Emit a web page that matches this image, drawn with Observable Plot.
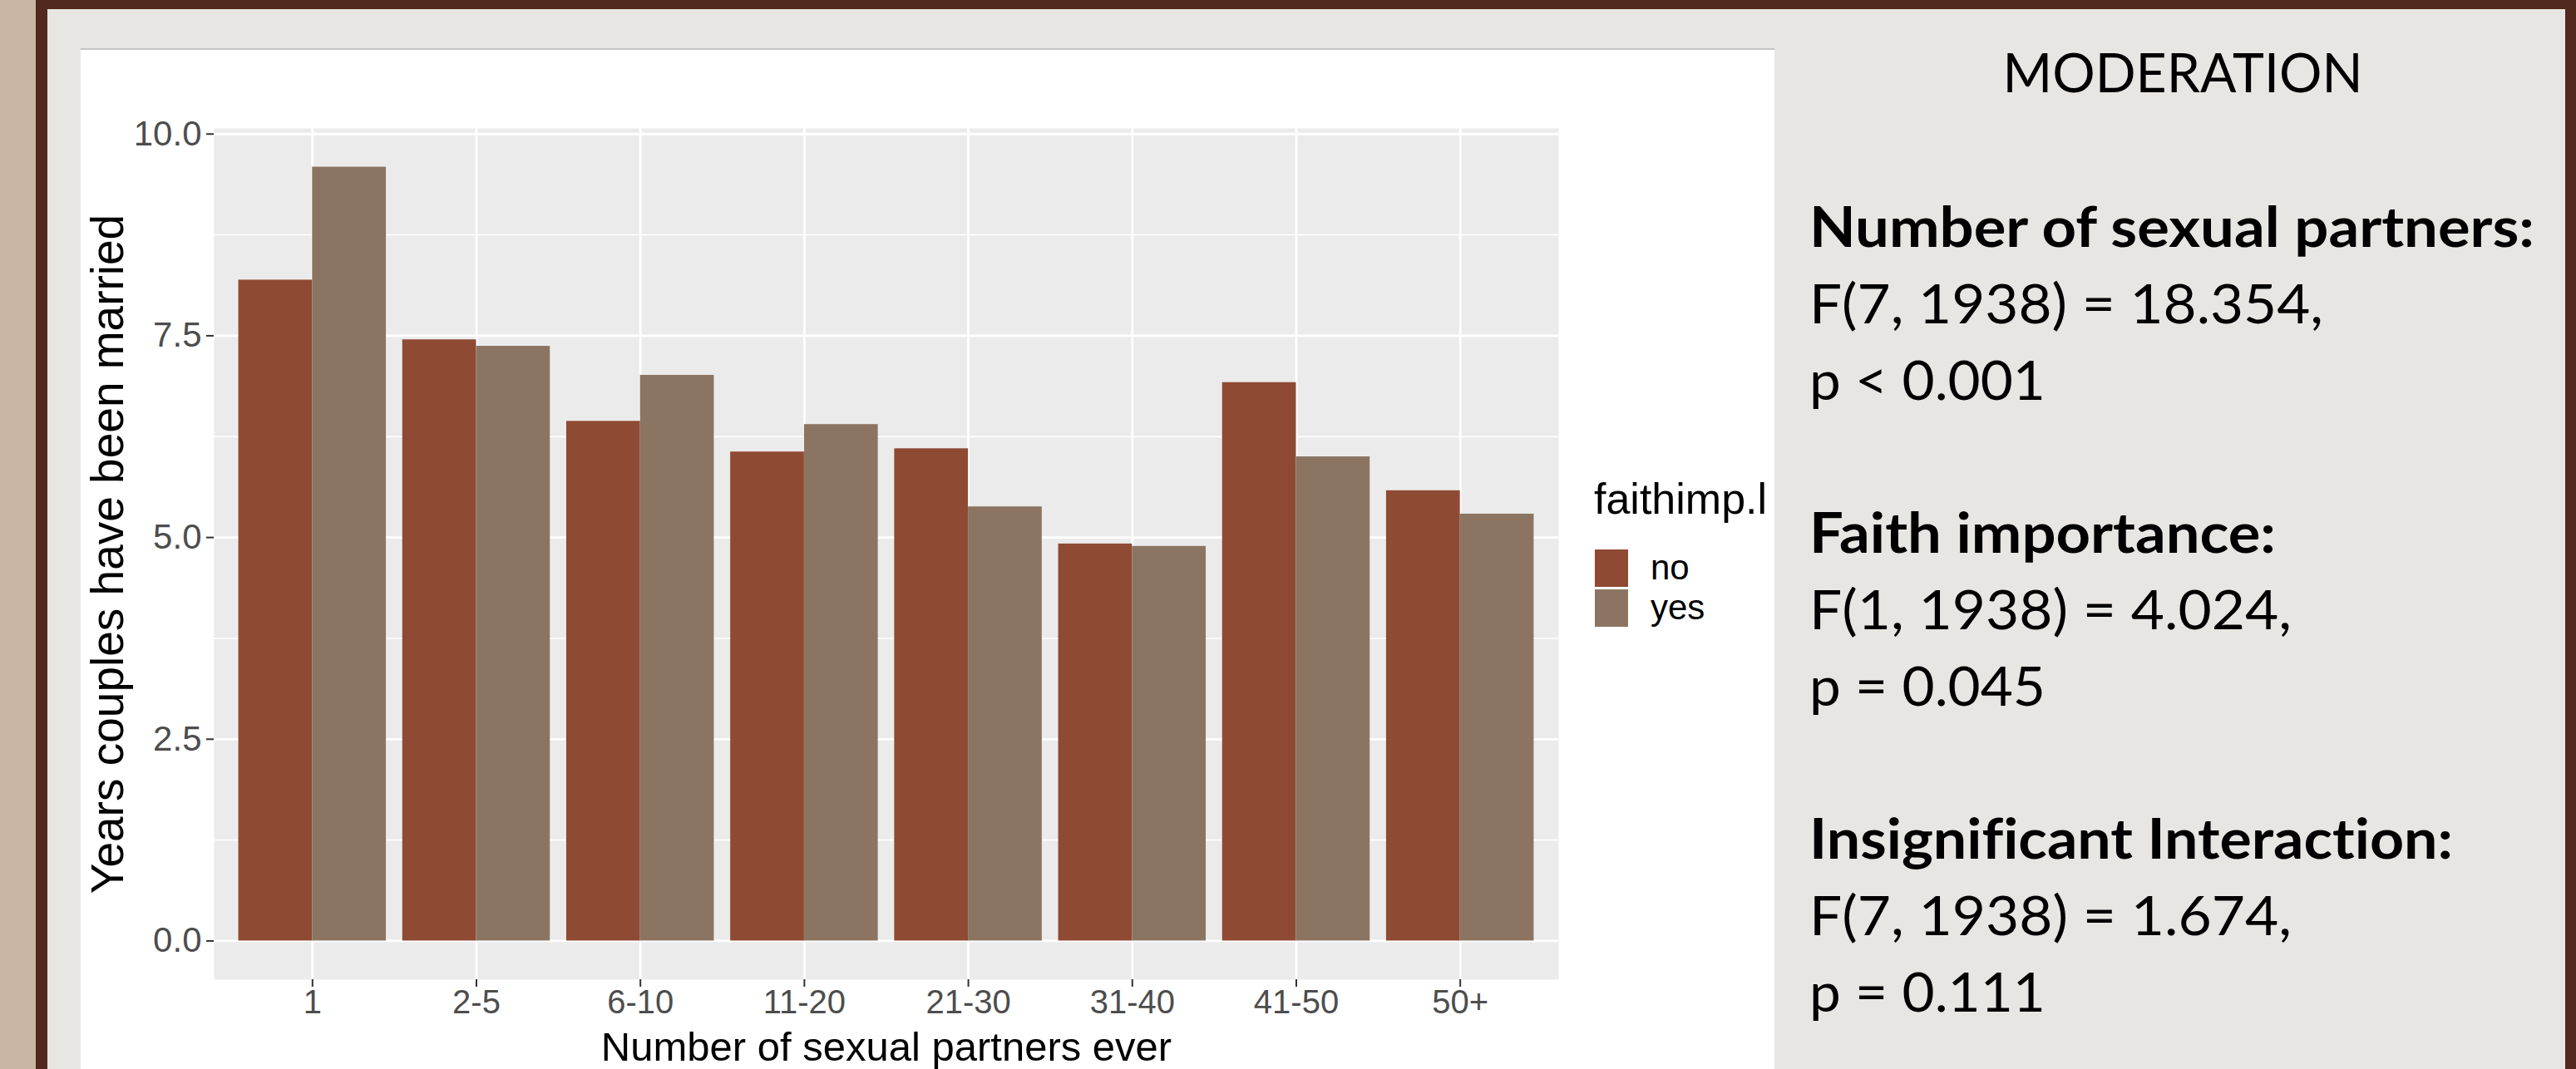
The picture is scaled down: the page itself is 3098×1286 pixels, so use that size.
<!DOCTYPE html>
<html>
<head>
<meta charset="utf-8">
<script src="https://cdn.jsdelivr.net/npm/d3@7"></script>
<script src="https://cdn.jsdelivr.net/npm/@observablehq/plot@0.6"></script>
<style>
html, body { margin: 0; padding: 0; }
body { width: 3098px; height: 1286px; position: relative; overflow: hidden; background: #e7e6e2; font-family: "Liberation Sans", Arial, sans-serif; }
.abs { position: absolute; }
#stats text { font-variant-ligatures: none; font-feature-settings: "liga" 0, "dlig" 0; }
</style>
</head>
<body>
<div class="abs" style="left:0;top:0;width:43px;height:1286px;background:#c9b6a5"></div>
<div class="abs" style="left:43px;top:0;width:14px;height:1286px;background:#52291e"></div>
<div class="abs" style="left:43px;top:0;width:3055px;height:11px;background:#52291e"></div>
<div class="abs" style="left:3085px;top:0;width:13px;height:1286px;background:#52291e"></div>
<div id="chart" class="abs" style="left:97px;top:59px;width:2037px;height:1227px;background:#fff"></div>
<div class="abs" style="left:97px;top:58px;width:2037px;height:2px;background:#c4c4c4"></div>
<div id="legend" class="abs" style="left:1917px;top:570px;width:210px;height:200px;"></div>
<svg id="stats" class="abs" style="left:2134px;top:0" width="951" height="1286"></svg>
<script>
// ---- data ----
const categories = ["1", "2-5", "6-10", "11-20", "21-30", "31-40", "41-50", "50+"];
const noValues  = [8.19, 7.45, 6.44, 6.06, 6.10, 4.92, 6.92, 5.58];
const yesValues = [9.59, 7.37, 7.01, 6.40, 5.38, 4.89, 6.00, 5.29];
const groups = ["no", "yes"];
const groupColors = ["#8f4a33", "#8b7562"];
const yTicks = [0, 2.5, 5, 7.5, 10];
const yMinorTicks = [1.25, 3.75, 6.25, 8.75];
const xTitle = "Number of sexual partners ever";
const yTitle = "Years couples have been married";
const legendTitle = "faithimp.l";
const panelTitle = "MODERATION";
const statHeads = ["Number of sexual partners:", "Faith importance:", "Insignificant Interaction:"];
const statLines1 = ["F(7, 1938) = 18.354,", "F(1, 1938) = 4.024,", "F(7, 1938) = 1.674,"];
const statLines2 = ["p < 0.001", "p = 0.045", "p = 0.111"];

const data = categories.flatMap((c, i) => [
  {cat: c, faith: groups[0], value: noValues[i]},
  {cat: c, faith: groups[1], value: yesValues[i]}
]);

// ---- chart ----
const W = 2037, H = 1227, mL = 160, mR = 260, mT = 95, mB = 108;
const padInner = 0.1, padOuter = 0.15;
const step = (W - mL - mR) / (categories.length - padInner + 2 * padOuter);
const half = step * (1 - padInner) / 2;
const maxV = d3.max(data, d => d.value);
const pad = 0.05 * maxV;

const chart = Plot.plot({
  width: W, height: H,
  marginLeft: mL, marginRight: mR, marginTop: mT, marginBottom: mB,
  style: {background: "transparent", fontFamily: "'Liberation Sans', Arial, sans-serif"},
  x: {domain: categories, paddingInner: padInner, paddingOuter: padOuter, round: false},
  y: {domain: [-pad, maxV + pad]},
  color: {domain: groups, range: groupColors},
  marks: [
    Plot.frame({fill: "#ebebeb", stroke: "none"}),
    Plot.ruleY(yMinorTicks, {stroke: "#ffffff", strokeWidth: 1.5}),
    Plot.ruleY(yTicks, {stroke: "#ffffff", strokeWidth: 2.8}),
    Plot.ruleX(categories, {stroke: "#ffffff", strokeWidth: 2.8}),
    Plot.barY(data.filter(d => d.faith === groups[0]), {x: "cat", y: "value", fill: "faith", insetRight: half}),
    Plot.barY(data.filter(d => d.faith === groups[1]), {x: "cat", y: "value", fill: "faith", insetLeft: half}),
    Plot.axisY({ticks: yTicks, tickFormat: d3.format(".1f"), tickSize: 9, tickPadding: 6, fontSize: 42, fill: "#4d4d4d", stroke: "#333333", strokeWidth: 2, label: null}),
    Plot.axisX({tickSize: 9, tickPadding: 3, fontSize: 40, fill: "#4d4d4d", stroke: "#333333", strokeWidth: 2, label: null}),
    Plot.text([yTitle], {frameAnchor: "left", textAnchor: "middle", rotate: -90, dx: -127, fontSize: 55, fill: "#000"}),
    Plot.text([xTitle], {frameAnchor: "bottom", textAnchor: "middle", dy: 97, lineAnchor: "bottom", fontSize: 49, fill: "#000"})
  ]
});
document.getElementById("chart").appendChild(chart);

// ---- legend (ggplot style) ----
const lg = document.getElementById("legend");
const lt = document.createElement("div");
lt.textContent = legendTitle;
lt.style.cssText = "position:absolute;left:0;top:0;font-size:52px;line-height:60px;color:#000;";
lg.appendChild(lt);
groups.forEach((g, i) => {
  const key = document.createElement("div");
  key.style.cssText = `position:absolute;left:1px;top:${91 + i * 48}px;width:40px;height:45px;background:${groupColors[i]};`;
  lg.appendChild(key);
  const lab = document.createElement("div");
  lab.textContent = g;
  lab.style.cssText = `position:absolute;left:68px;top:${88 + i * 48}px;font-size:42px;line-height:50px;color:#000;`;
  lg.appendChild(lab);
});

// ---- statistics panel ----
const svg = d3.select("#stats");
svg.append("text").text(panelTitle)
  .attr("x", 491).attr("y", 111).attr("text-anchor", "middle")
  .attr("textLength", 433).attr("lengthAdjust", "spacingAndGlyphs")
  .style("font-family", "Lato, 'Open Sans', sans-serif").style("font-weight", 400)
  .style("font-size", "66px").style("fill", "#000");
const headW = [872, 561, 774];
const l1W = [618, 580, 580];
const l2W = [284, 284, 284];
statHeads.forEach((h, k) => {
  const base = 297 + k * 368;
  const rows = [[h, headW[k], 700], [statLines1[k], l1W[k], 400], [statLines2[k], l2W[k], 400]];
  rows.forEach(([t, w, fw], j) => {
    svg.append("text").text(t)
      .attr("x", 42).attr("y", base + j * 92)
      .attr("textLength", w).attr("lengthAdjust", "spacingAndGlyphs")
      .style("font-family", "Lato, 'Open Sans', sans-serif").style("font-weight", fw)
      .style("font-size", "66px").style("fill", "#000");
  });
});
</script>
</body>
</html>
